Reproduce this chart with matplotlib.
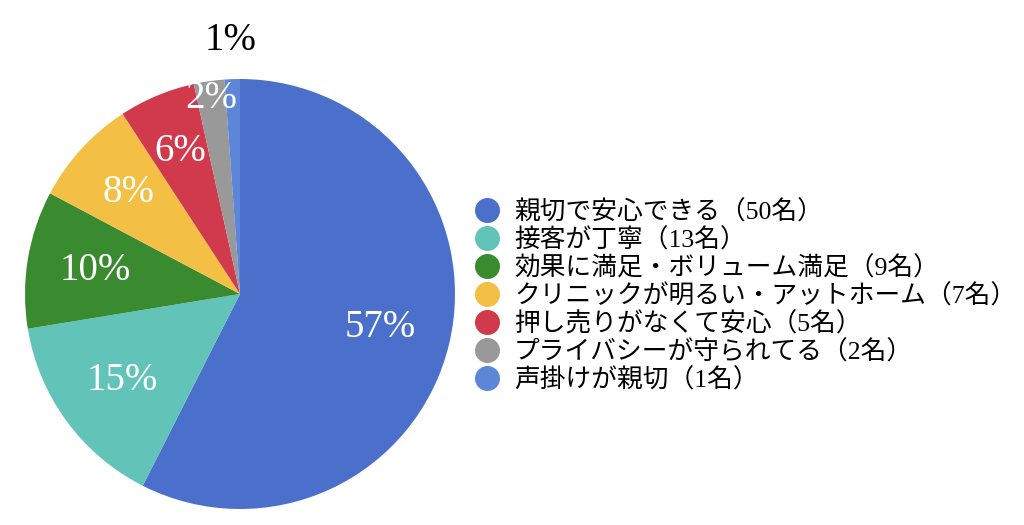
import numpy as np
import matplotlib.pyplot as plt
from matplotlib.lines import Line2D

# survey answers (people)
labels = ["親切で安心できる（50名）", "接客が丁寧（13名）", "効果に満足・ボリューム満足（9名）",
          "クリニックが明るい・アットホーム（7名）", "押し売りがなくて安心（5名）",
          "プライバシーが守られてる（2名）", "声掛けが親切（1名）"]
counts = [50, 13, 9, 7, 5, 2, 1]
pct_text = ["57%", "15%", "10%", "8%", "6%", "2%", "1%"]

colors = ["#4a70cb", "#62c3b9", "#3a8a2f", "#f3bf44", "#d13a4c", "#999999", "#5d86d8"]
label_r = [0.67, 0.68, 0.68, 0.70, 0.72, 0.92, 1.18]
label_c = ["white"] * 6 + ["black"]

fig = plt.figure(figsize=(10.24, 5.25), dpi=100)
ax = fig.add_axes([25 / 1024, 16 / 525, 430 / 1024, 430 / 525])

wedges, _ = ax.pie(counts, colors=colors, startangle=90, counterclock=False,
                   radius=1.0, wedgeprops=dict(linewidth=0))
ax.set_xlim(-1, 1)
ax.set_ylim(-1, 1)
ax.set_aspect("equal")

for w, t, r, c in zip(wedges, pct_text, label_r, label_c):
    ang = np.deg2rad((w.theta1 + w.theta2) / 2)
    ax.text(r * np.cos(ang), r * np.sin(ang), t, ha="center", va="center",
            color=c, fontsize=28, family=["Liberation Serif", "DejaVu Serif"])

handles = [Line2D([], [], marker="o", linestyle="none", markersize=18,
                  markerfacecolor=c, markeredgecolor="none") for c in colors]
leg = fig.legend(handles, labels, loc="center left", bbox_to_anchor=(464 / 1024, 229 / 525),
                 frameon=False, handlelength=1.0, handletextpad=0.55, labelspacing=0.14,
                 borderaxespad=0, prop=dict(family=["Liberation Serif", "Noto Sans CJK JP"], size=18.5))

fig.savefig("out.png", dpi=100)
